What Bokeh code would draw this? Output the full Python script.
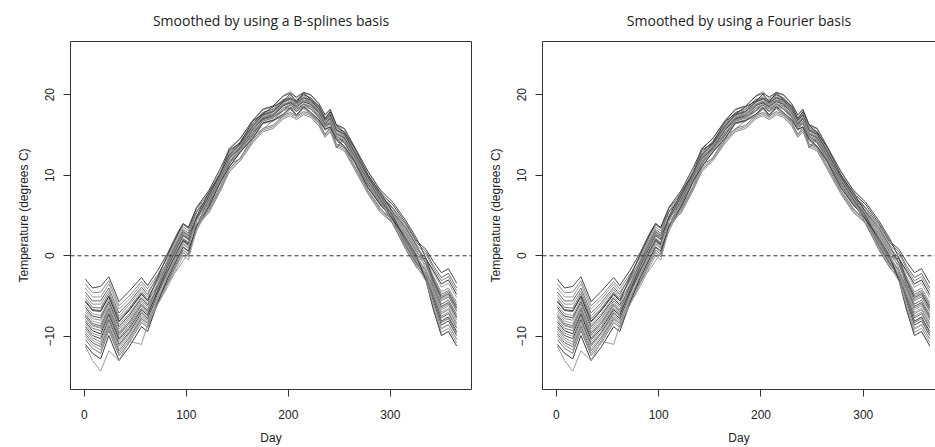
from bokeh.plotting import figure
from bokeh.layouts import row
from bokeh.models import Span, LinearAxis, FixedTicker, Range1d
from bokeh.embed import file_html
from bokeh.resources import INLINE

# sample days (irregular, placed at the visible wiggles)
days = [1, 8, 16, 24, 34, 44, 56, 62,
        72, 82, 92, 97, 102, 110,
        122, 134, 142, 153, 165, 175, 185, 195, 202, 208, 215, 222, 230, 236, 241, 247, 255, 265, 278, 290,
        302, 315, 326, 335, 342, 350, 357, 365]

temp_01 = [-2.9, -4.0, -3.8, -2.6, -5.7, -4.4, -2.7, -3.7,
           -1.8, 0.4, 3.0, 4.0, 3.5, 5.9,
           7.7, 10.6, 12.8, 14.2, 16.4, 17.8, 18.2, 19.4, 19.6, 19.3, 20.0, 19.6, 18.5, 17.1, 17.8, 15.9, 15.4, 13.1, 10.1, 7.8,
           6.4, 4.1, 1.8, 0.8, -0.7, -2.1, -1.6, -3.4]
temp_02 = [-3.5, -4.6, -4.5, -3.1, -6.2, -5.0, -3.2, -4.1,
           -2.3, -0.2, 2.4, 3.6, 3.1, 5.4,
           7.3, 10.2, 12.4, 13.8, 16.0, 17.4, 17.8, 19.2, 19.4, 18.9, 19.3, 19.2, 18.1, 16.7, 17.4, 15.5, 15.0, 12.7, 9.7, 7.4,
           5.9, 3.6, 1.3, 0.2, -1.5, -3.1, -2.6, -4.4]
temp_03 = [-4.0, -5.1, -5.1, -3.5, -6.6, -5.4, -3.5, -4.5,
           -2.7, -0.7, 1.9, 3.1, 2.6, 5.5,
           8.0, 10.5, 13.4, 14.5, 16.7, 18.1, 18.5, 19.9, 20.4, 19.5, 20.2, 19.9, 18.8, 17.4, 18.1, 16.2, 15.7, 13.4, 10.4, 8.1,
           6.0, 3.1, 0.8, -0.3, -2.0, -3.9, -3.4, -5.2]
temp_04 = [-4.5, -5.6, -5.6, -4.0, -7.1, -5.8, -3.9, -4.8,
           -2.5, 0.1, 2.7, 3.9, 3.4, 5.5,
           7.1, 9.6, 12.4, 13.2, 15.8, 17.0, 17.9, 18.8, 19.0, 18.9, 19.3, 19.2, 17.9, 16.2, 17.2, 15.6, 14.8, 12.2, 9.5, 7.5,
           6.0, 3.9, 1.6, 0.5, -1.2, -2.7, -2.2, -4.0]
temp_05 = [-4.9, -6.0, -6.0, -4.4, -7.5, -6.1, -4.2, -5.1,
           -3.1, -1.0, 1.6, 2.8, 2.3, 4.7,
           6.6, 9.8, 11.5, 13.4, 15.1, 16.9, 17.3, 18.0, 18.9, 18.4, 18.6, 18.7, 17.2, 16.2, 16.5, 14.9, 14.1, 12.3, 9.0, 6.9,
           5.5, 3.4, 1.1, -0.4, -2.5, -4.5, -4.0, -5.8]
temp_06 = [-5.3, -6.4, -6.5, -4.7, -7.8, -6.5, -4.5, -5.4,
           -3.0, -0.5, 2.1, 3.3, 2.8, 5.4,
           7.5, 10.4, 12.6, 14.0, 16.2, 17.6, 18.0, 19.2, 19.6, 19.1, 19.7, 19.4, 18.3, 16.9, 17.6, 15.7, 15.2, 12.9, 9.9, 7.6,
           5.6, 2.8, 0.5, -0.8, -2.7, -4.8, -4.3, -6.1]
temp_07 = [-5.7, -6.8, -6.9, -5.1, -8.2, -6.8, -4.8, -5.6,
           -3.7, -1.7, 0.9, 2.1, 1.6, 4.9,
           7.8, 10.3, 13.1, 14.0, 16.7, 17.6, 18.5, 19.2, 20.1, 19.1, 20.2, 19.4, 18.6, 17.0, 17.9, 16.2, 15.3, 13.4, 10.0, 7.9,
           5.5, 2.3, 0.0, -0.4, -1.8, -3.5, -3.0, -4.8]
temp_08 = [-6.1, -7.2, -7.4, -5.4, -8.5, -7.2, -5.1, -5.9,
           -3.4, -0.9, 1.7, 2.9, 2.4, 4.6,
           6.4, 9.3, 11.5, 12.9, 15.1, 16.5, 16.9, 18.1, 18.5, 18.0, 18.6, 18.3, 17.2, 15.8, 16.5, 14.6, 14.1, 11.8, 8.8, 6.5,
           5.3, 3.2, 0.9, -0.8, -3.2, -5.4, -4.9, -6.7]
temp_09 = [-6.4, -7.5, -7.7, -5.7, -8.8, -7.4, -5.3, -6.1,
           -4.1, -2.0, 0.6, 1.8, 1.3, 4.4,
           7.1, 10.0, 12.2, 13.6, 15.8, 17.2, 17.6, 18.8, 19.2, 18.7, 19.3, 19.0, 17.9, 16.5, 17.2, 13.4, 14.6, 12.5, 9.5, 7.2,
           4.9, 1.8, -0.5, -1.8, -3.9, -6.3, -5.8, -7.6]
temp_10 = [-6.7, -7.8, -8.0, -6.0, -9.1, -7.7, -5.6, -6.3,
           -3.8, -1.2, 1.4, 2.6, 2.1, 4.3,
           6.0, 9.4, 11.0, 12.9, 14.5, 16.4, 16.7, 17.5, 18.3, 17.4, 18.4, 17.7, 16.8, 15.6, 16.0, 14.4, 13.5, 11.6, 8.4, 6.3,
           4.8, 2.7, 0.4, -0.9, -2.9, -5.0, -4.5, -6.3]
temp_11 = [-7.0, -8.1, -8.4, -6.3, -9.4, -7.9, -5.8, -6.6,
           -4.1, -1.6, 1.0, 2.2, 1.7, 4.7,
           7.3, 10.2, 12.4, 13.8, 16.0, 17.4, 17.8, 19.0, 19.4, 18.9, 19.5, 19.2, 18.1, 16.7, 17.4, 15.5, 15.0, 12.7, 9.7, 7.4,
           5.2, 2.2, -0.1, -1.8, -4.2, -6.7, -6.2, -8.0]
temp_12 = [-7.3, -8.4, -8.7, -6.5, -9.6, -8.2, -6.0, -6.8,
           -3.7, -0.8, 1.8, 3.0, 2.5, 4.8,
           6.6, 9.5, 11.7, 13.1, 15.3, 16.7, 17.1, 18.3, 18.7, 18.2, 18.8, 18.5, 17.4, 16.0, 16.7, 14.8, 14.3, 12.0, 9.0, 6.7,
           5.5, 3.5, 1.2, -1.0, -3.6, -6.0, -5.5, -7.3]
temp_13 = [-7.6, -8.7, -9.0, -6.8, -9.9, -8.4, -6.2, -7.0,
           -4.6, -2.3, 0.3, 1.5, 1.0, 4.5,
           7.6, 10.1, 12.9, 13.7, 16.5, 17.3, 18.3, 19.0, 19.9, 19.0, 19.9, 19.3, 18.4, 16.8, 17.7, 16.0, 15.1, 13.2, 9.8, 7.7,
           5.1, 1.6, -0.7, -2.3, -4.8, -7.5, -7.0, -8.8]
temp_14 = [-7.9, -9.0, -9.3, -7.1, -10.2, -8.7, -6.5, -7.2,
           -4.4, -1.8, 0.8, 2.0, 1.5, 3.8,
           5.7, 8.6, 10.8, 12.2, 14.4, 15.8, 16.2, 17.4, 17.8, 17.3, 17.9, 17.6, 16.5, 15.1, 15.8, 13.9, 13.4, 11.1, 8.1, 5.8,
           4.5, 2.4, 0.1, -1.2, -3.3, -5.6, -5.1, -6.9]
temp_15 = [-8.2, -9.3, -9.7, -7.3, -10.4, -9.0, -6.7, -7.4,
           -4.3, -1.3, 1.3, 2.5, 2.0, 4.7,
           6.9, 9.8, 12.0, 13.4, 15.6, 17.0, 17.4, 18.6, 19.0, 18.5, 19.1, 18.8, 17.7, 16.3, 17.0, 15.1, 14.6, 12.3, 9.3, 7.0,
           4.6, 1.3, -1.0, -2.7, -5.2, -8.1, -7.6, -9.4]
temp_16 = [-8.5, -9.6, -10.0, -7.6, -10.7, -9.2, -6.9, -7.6,
           -5.0, -3.2, -1.6, -0.6, 0.3, 3.0,
           6.3, 9.2, 11.4, 12.8, 15.0, 16.4, 16.8, 18.0, 18.4, 17.9, 18.5, 18.2, 17.1, 15.7, 16.4, 14.5, 14.0, 11.7, 8.7, 6.4,
           5.1, 3.0, 0.7, -1.6, -4.4, -7.0, -6.5, -8.3]
temp_17 = [-8.8, -9.9, -10.3, -7.9, -11.0, -9.5, -7.1, -7.8,
           -4.7, -1.9, 0.7, 1.9, 1.4, 4.6,
           7.4, 10.3, 12.5, 13.9, 16.1, 17.5, 17.9, 19.1, 19.5, 19.0, 19.6, 19.3, 18.2, 16.8, 17.5, 15.6, 15.1, 12.8, 9.8, 7.5,
           5.1, 1.9, -0.4, -2.6, -5.6, -8.6, -8.1, -9.9]
temp_18 = [-9.1, -10.2, -10.7, -8.1, -11.2, -9.7, -7.4, -8.0,
           -5.3, -2.8, -0.2, 1.0, 0.5, 3.4,
           5.9, 8.8, 11.3, 12.1, 14.9, 15.7, 16.8, 17.3, 18.2, 17.3, 18.3, 17.5, 16.7, 15.0, 16.0, 14.3, 13.4, 11.5, 8.1, 6.0,
           4.0, 1.1, -1.2, -2.1, -4.0, -6.5, -6.0, -7.8]
temp_19 = [-9.4, -10.5, -11.0, -8.4, -11.5, -10.0, -7.6, -8.2,
           -5.0, -2.1, 0.5, 1.7, 1.2, 4.4,
           7.1, 10.0, 12.2, 13.6, 15.8, 17.2, 17.6, 18.8, 19.2, 18.7, 19.3, 19.0, 17.9, 16.5, 17.2, 15.3, 14.8, 12.5, 9.5, 7.2,
           5.3, 2.5, 0.2, -2.6, -5.9, -9.0, -8.5, -10.3]
temp_20 = [-9.7, -10.8, -11.3, -8.7, -11.8, -10.2, -7.8, -8.4,
           -5.6, -3.1, -0.5, 0.7, 0.2, 3.6,
           6.5, 9.7, 11.4, 13.3, 15.0, 16.9, 17.2, 18.0, 18.8, 17.9, 18.9, 18.2, 17.3, 16.1, 16.4, 14.9, 14.0, 12.1, 8.9, 6.8,
           4.1, 0.8, -1.5, -2.7, -4.9, -7.7, -7.2, -9.0]
temp_21 = [-10.0, -11.1, -11.7, -9.0, -12.1, -10.5, -8.0, -8.7,
           -5.4, -2.4, 0.2, 1.4, 0.9, 3.4,
           5.5, 8.4, 10.6, 12.0, 14.2, 15.6, 16.0, 17.2, 17.6, 17.1, 17.7, 17.4, 16.3, 14.9, 15.6, 13.7, 13.2, 10.9, 7.9, 5.6,
           4.1, 1.7, -0.6, -3.1, -6.3, -9.5, -9.0, -10.8]
temp_22 = [-10.4, -11.5, -12.1, -9.3, -12.4, -10.8, -8.3, -8.9,
           -6.0, -3.4, -0.8, 0.4, -0.1, 3.7,
           7.0, 9.9, 12.1, 13.5, 15.7, 17.1, 17.5, 18.7, 19.1, 18.6, 19.2, 18.9, 17.8, 16.4, 17.1, 15.2, 14.7, 12.4, 9.4, 7.1,
           4.6, 1.4, -0.9, -2.7, -5.4, -8.3, -7.8, -9.6]
temp_23 = [-11.0, -12.1, -12.8, -9.9, -13.0, -11.3, -8.8, -9.4,
           -5.8, -2.7, -0.1, 1.1, 0.6, 3.6,
           6.1, 9.3, 11.0, 12.9, 14.6, 16.5, 16.8, 17.6, 18.4, 17.5, 18.5, 17.8, 16.9, 15.7, 16.0, 14.5, 13.6, 11.7, 8.5, 6.4,
           4.6, 2.1, -0.2, -3.1, -6.6, -9.9, -9.4, -11.2]
temp_24 = [-11.2, -13.0, -14.3, -11.8, -13.0, -10.6, -11.0, -8.6,
           -6.0, -3.8, -1.2, 0.0, -0.5, 3.3,
           6.7, 9.6, 11.8, 13.2, 15.4, 16.8, 17.2, 18.4, 18.8, 18.3, 18.9, 18.6, 17.5, 16.1, 16.8, 14.9, 14.4, 12.1, 9.1, 6.8,
           4.3, 1.0, -1.3, -3.2, -6.0, -9.1, -8.6, -10.4]
temp_25 = [-5.6, -6.7, -6.8, -5.0, -8.1, -6.7, -4.7, -5.6,
           -2.7, 0.2, 2.8, 4.0, 3.5, 6.0,
           8.1, 11.0, 13.2, 14.6, 16.8, 18.2, 18.6, 19.8, 20.2, 19.7, 20.3, 20.0, 18.9, 17.5, 18.2, 16.3, 15.8, 13.5, 10.5, 8.2,
           6.7, 4.4, 2.1, -0.3, -3.0, -5.2, -4.7, -6.5]
temp_26 = [-7.5, -8.6, -8.9, -6.7, -9.8, -8.4, -6.2, -6.9,
           -4.0, -1.1, 1.5, 2.7, 2.2, 4.0,
           5.3, 8.2, 10.4, 11.8, 14.0, 15.4, 15.8, 17.0, 17.4, 16.9, 17.5, 17.2, 16.1, 14.7, 15.4, 13.5, 13.0, 10.7, 7.7, 5.4,
           4.1, 2.0, -0.3, -2.0, -4.5, -7.2, -6.7, -8.5]

curves = [temp_01, temp_02, temp_03, temp_04, temp_05, temp_06, temp_07, temp_08, temp_09,
          temp_10, temp_11, temp_12, temp_13, temp_14, temp_15, temp_16, temp_17, temp_18,
          temp_19, temp_20, temp_21, temp_22, temp_23, temp_24, temp_25, temp_26]

x_ticks = [0, 100, 200, 300]
y_ticks = [-10, 0, 10, 20]

grays = ["#4a4a4a", "#8a8a8a", "#a2a2a2", "#6a6a6a", "#959595", "#777777", "#3c3c3c", "#9c9c9c"]
FRAME = "#333333"
TXT = "#222222"


def make_panel(title, width, b_left, b_right, b_top, b_bottom, x_end, full_box):
    p = figure(width=width, height=447, output_backend="svg", toolbar_location=None,
               x_range=Range1d(-13.56, x_end), y_range=Range1d(-16.6, 26.6),
               min_border_left=b_left, min_border_right=b_right,
               min_border_top=b_top, min_border_bottom=b_bottom,
               x_axis_label="Day", y_axis_label="Temperature (degrees C)")
    p.xgrid.visible = False
    p.ygrid.visible = False
    p.background_fill_color = "white"
    p.border_fill_color = "white"

    for i, c in enumerate(curves):
        p.line(days, c, line_color=grays[i % len(grays)], line_width=1)

    p.add_layout(Span(location=0, dimension="width", line_color=FRAME,
                      line_dash="4 3", line_width=1))

    for ax in (p.xaxis[0], p.yaxis[0]):
        ax.minor_tick_line_color = None
        ax.major_tick_out = 7
        ax.major_tick_in = 0
        ax.axis_line_color = FRAME
        ax.major_tick_line_color = FRAME
        ax.major_label_text_font = "Liberation Sans"
        ax.major_label_text_font_size = "12px"
        ax.major_label_text_color = TXT
        ax.axis_label_text_font = "Liberation Sans"
        ax.axis_label_text_font_size = "12px"
        ax.axis_label_text_font_style = "normal"
        ax.axis_label_text_color = TXT
    p.xaxis[0].ticker = FixedTicker(ticks=x_ticks)
    p.yaxis[0].ticker = FixedTicker(ticks=y_ticks)
    p.xaxis[0].major_label_standoff = 13
    p.xaxis[0].axis_label_standoff = 9
    p.yaxis[0].major_label_standoff = 9
    p.yaxis[0].axis_label_standoff = 12
    p.yaxis[0].major_label_orientation = "parallel"

    sides = ["above", "right"] if full_box else ["above"]
    for side in sides:
        ax = LinearAxis(ticker=FixedTicker(ticks=[]), major_tick_out=0, major_tick_in=0,
                        minor_tick_out=0, minor_tick_in=0, major_label_standoff=0,
                        axis_line_color=FRAME)
        p.add_layout(ax, side)
    p.outline_line_color = None

    p.title.text = title
    p.title.align = "center"
    p.title.vertical_align = "top"
    p.title.text_font = "Open Sans"
    p.title.text_font_size = "14px"
    p.title.text_font_style = "normal"
    p.title.text_color = TXT
    p.title.standoff = 20
    return p


p1 = make_panel("Smoothed by using a B-splines basis", 472, 70, 1, 40, 56, 379.56, True)
p2 = make_panel("Smoothed by using a Fourier basis", 463, 70, 0, 38, 58, 370.6, False)

layout = row(p1, p2)
open("out.html", "w").write(file_html(layout, INLINE))
